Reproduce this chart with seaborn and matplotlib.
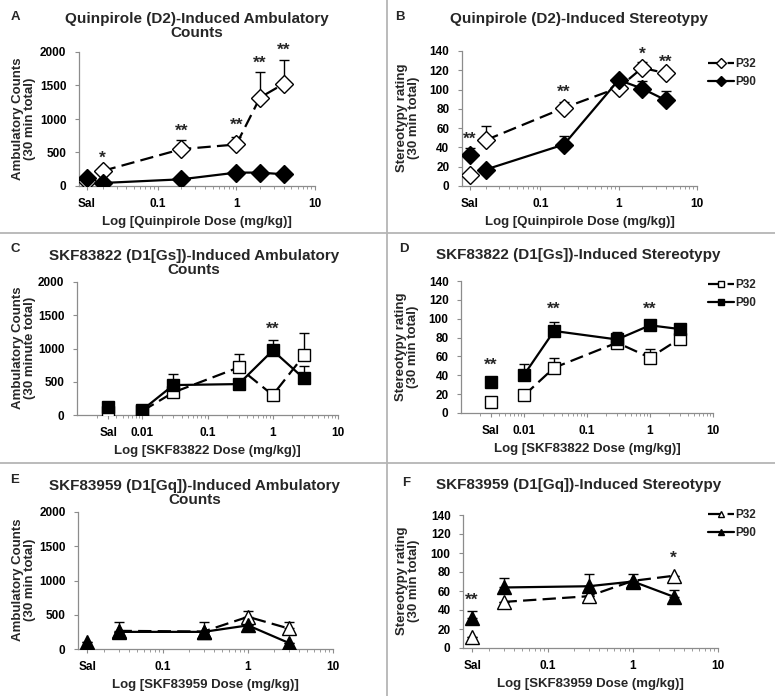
import numpy as np
import pandas as pd
import matplotlib
matplotlib.use("Agg")
import matplotlib.pyplot as plt
import seaborn as sns
from matplotlib.lines import Line2D
from matplotlib.ticker import LogLocator, NullFormatter, FixedLocator, FixedFormatter

sns.set_theme(style="white")
plt.rcParams['font.family'] = ['Liberation Sans', 'DejaVu Sans']
plt.rcParams['font.weight'] = 'bold'
plt.rcParams['axes.labelweight'] = 'bold'

# ---------------- data ----------------
# Panel A: Quinpirole ambulatory counts
a_doses = [0.02, 0.2, 1, 2, 4]
a_sal_p32, a_sal_p32_err = 80, 0
a_sal_p90, a_sal_p90_err = 120, 0
a_p32 = [225, 550, 620, 1320, 1525]
a_p32_err = [60, 135, 115, 375, 360]
a_p90 = [45, 100, 200, 200, 175]
a_p90_err = [0, 0, 0, 0, 0]
a_star_x = [0.02, 0.2, 1, 2, 4]
a_star_y = [420, 820, 900, 1830, 2030]
a_star_txt = ['*', '**', '**', '**', '**']

# Panel B: Quinpirole stereotypy
b_doses = [0.02, 0.2, 1, 2, 4]
b_sal_p32, b_sal_p32_err = 11, 3.5
b_sal_p90, b_sal_p90_err = 32.5, 6.5
b_p32 = [47.5, 81, 102, 122.5, 117]
b_p32_err = [14.5, 6, 0, 6, 3]
b_p90 = [17, 43, 110, 101, 89]
b_p90_err = [0, 8.5, 2, 8, 9.5]
b_star_x = ['sal', 0.2, 2, 4]
b_star_y = [48, 97, 137, 128]
b_star_txt = ['**', '**', '*', '**']

# Panel C: SKF83822 ambulatory counts
c_doses = [0.01, 0.03, 0.3, 1, 3]
c_sal_p32, c_sal_p32_err = 40, 0
c_sal_p90, c_sal_p90_err = 120, 0
c_p32 = [60, 340, 715, 300, 895]
c_p32_err = [0, 0, 205, 0, 335]
c_p90 = [75, 450, 465, 970, 550]
c_p90_err = [0, 170, 0, 165, 190]
c_star_x = [1]
c_star_y = [1290]
c_star_txt = ['**']

# Panel D: SKF83822 stereotypy
d_doses = [0.01, 0.03, 0.3, 1, 3]
d_sal_p32, d_sal_p32_err = 11.6, 3
d_sal_p90, d_sal_p90_err = 32.7, 3.5
d_p32 = [18.6, 48, 74.6, 58.7, 79]
d_p32_err = [5, 10, 0, 9, 0]
d_p90 = [40.4, 87, 78, 93, 89]
d_p90_err = [11.3, 9, 7.5, 0, 4]
d_star_x = ['sal', 0.03, 1]
d_star_y = [51, 110, 110]
d_star_txt = ['**', '**', '**']

# Panel E: SKF83959 ambulatory counts
e_doses = [0.03, 0.3, 1, 3]
e_sal_p32, e_sal_p32_err = 50, 0
e_sal_p90, e_sal_p90_err = 105, 0
e_p32 = [265, 255, 470, 300]
e_p32_err = [135, 135, 90, 90]
e_p90 = [250, 250, 345, 90]
e_p90_err = [0, 0, 0, 0]
e_star_x = []
e_star_y = []
e_star_txt = []

# Panel F: SKF83959 stereotypy
f_doses = [0.03, 0.3, 1, 3]
f_sal_p32, f_sal_p32_err = 11.6, 0
f_sal_p90, f_sal_p90_err = 31.7, 7.3
f_p32 = [48.5, 54.5, 70.7, 76]
f_p32_err = [0, 0, 0, 0]
f_p90 = [63.7, 65, 70, 54]
f_p90_err = [10, 13.4, 8, 7]
f_star_x = ['sal', 3]
f_star_y = [50, 94]
f_star_txt = ['**', '*']

amb_ticks = [0, 500, 1000, 1500, 2000]
ster_ticks = [0, 20, 40, 60, 80, 100, 120, 140]

# ---------------- layout ----------------
W, H = 775, 696
fig = plt.figure(figsize=(W / 100, H / 100), dpi=100)


def add_ax(l, r, t, b):
    return fig.add_axes([l / W, 1 - b / H, (r - l) / W, (b - t) / H])


GRAY = '#8c8c8c'
DASH = (0, (6, 2.8))


def panel(ax, sal_x, doses, sal32, sal32e, p32, p32e, sal90, sal90e, p90, p90e,
          marker, ms, xlim, decades, dec_labels, ylim, yticks,
          star_x, star_y, star_txt, xlabel):
    ax.set_xscale('log')
    for sal, sale, vals, errs, face, ls, z in [
            (sal32, sal32e, p32, p32e, 'white', DASH, 3),
            (sal90, sal90e, p90, p90e, 'black', '-', 5)]:
        xs = [sal_x] + list(doses)
        ys = [sal] + list(vals)
        es = [sale] + list(errs)
        ax.errorbar(xs, ys, yerr=[np.zeros(len(es)), es], fmt='none',
                    ecolor='black', elinewidth=1.0, capsize=3.5, capthick=1.0,
                    zorder=z - 1)
        df = pd.DataFrame({'dose': list(doses), 'value': list(vals)})
        sns.lineplot(data=df, x='dose', y='value', ax=ax, color='black',
                     linestyle=ls, linewidth=1.6, marker=marker, markersize=ms,
                     markerfacecolor=face, markeredgecolor='black',
                     markeredgewidth=1.0, errorbar=None, zorder=z)
        dfs = pd.DataFrame({'dose': [sal_x], 'value': [sal]})
        sns.lineplot(data=dfs, x='dose', y='value', ax=ax, color='black',
                     linestyle='none', marker=marker, markersize=ms,
                     markerfacecolor=face, markeredgecolor='black',
                     markeredgewidth=1.0, errorbar=None, zorder=z)
    for sx, sy, st in zip(star_x, star_y, star_txt):
        xx = sal_x if sx == 'sal' else sx
        ax.text(xx, sy, st, ha='center', va='center', fontsize=12.5,
                fontweight='bold', clip_on=False)
    ax.set_xlim(*xlim)
    ax.set_ylim(*ylim)
    ax.set_yticks(yticks)
    ax.set_yticklabels([str(t) for t in yticks])
    ax.xaxis.set_major_locator(FixedLocator([sal_x] + decades))
    ax.xaxis.set_major_formatter(FixedFormatter(['Sal'] + dec_labels))
    ax.xaxis.set_minor_locator(LogLocator(base=10, subs=np.arange(2, 10)))
    ax.xaxis.set_minor_formatter(NullFormatter())
    for s in ['top', 'right']:
        ax.spines[s].set_visible(False)
    for s in ['left', 'bottom']:
        ax.spines[s].set_color(GRAY)
        ax.spines[s].set_linewidth(0.9)
    ax.tick_params(axis='both', which='major', labelsize=8.5, colors='black',
                   length=3, width=0.8, color=GRAY, direction='out')
    ax.tick_params(axis='x', which='minor', length=2, width=0.6, color=GRAY,
                   direction='out', bottom=True)
    ax.tick_params(axis='x', which='major', pad=5.5, bottom=True)
    ax.tick_params(axis='y', which='major', pad=6, left=True)
    for lab in ax.get_xticklabels() + ax.get_yticklabels():
        lab.set_fontweight('bold')
    ax.set_xlabel(xlabel, fontsize=9.5, fontweight='bold', labelpad=4.5)
    ax.set_ylabel('')
    ax.grid(False)


axA = add_ax(79, 315, 52, 186)
panel(axA, 0.0125, a_doses, a_sal_p32, a_sal_p32_err, a_p32, a_p32_err,
      a_sal_p90, a_sal_p90_err, a_p90, a_p90_err, 'D', 9,
      (0.01, 10), [0.1, 1, 10], ['0.1', '1', '10'], (0, 2000), amb_ticks,
      a_star_x, a_star_y, a_star_txt, 'Log [Quinpirole Dose (mg/kg)]')

axB = add_ax(462, 697, 51, 186)
panel(axB, 0.0125, b_doses, b_sal_p32, b_sal_p32_err, b_p32, b_p32_err,
      b_sal_p90, b_sal_p90_err, b_p90, b_p90_err, 'D', 9,
      (0.01, 10), [0.1, 1, 10], ['0.1', '1', '10'], (0, 140), ster_ticks,
      b_star_x, b_star_y, b_star_txt, 'Log [Quinpirole Dose (mg/kg)]')

axC = add_ax(77, 338, 282, 415)
panel(axC, 0.003, c_doses, c_sal_p32, c_sal_p32_err, c_p32, c_p32_err,
      c_sal_p90, c_sal_p90_err, c_p90, c_p90_err, 's', 8.5,
      (0.001, 10), [0.01, 0.1, 1, 10], ['0.01', '0.1', '1', '10'], (0, 2000), amb_ticks,
      c_star_x, c_star_y, c_star_txt, 'Log [SKF83822 Dose (mg/kg)]')

axD = add_ax(461, 713, 281, 413)
panel(axD, 0.003, d_doses, d_sal_p32, d_sal_p32_err, d_p32, d_p32_err,
      d_sal_p90, d_sal_p90_err, d_p90, d_p90_err, 's', 8.5,
      (0.001, 10), [0.01, 0.1, 1, 10], ['0.01', '0.1', '1', '10'], (0, 140), ster_ticks,
      d_star_x, d_star_y, d_star_txt, 'Log [SKF83822 Dose (mg/kg)]')

axE = add_ax(78, 333, 512, 649)
panel(axE, 0.0128, e_doses, e_sal_p32, e_sal_p32_err, e_p32, e_p32_err,
      e_sal_p90, e_sal_p90_err, e_p90, e_p90_err, '^', 10,
      (0.01, 10), [0.1, 1, 10], ['0.1', '1', '10'], (0, 2000), amb_ticks,
      e_star_x, e_star_y, e_star_txt, 'Log [SKF83959 Dose (mg/kg)]')

axF = add_ax(463, 718, 515, 648)
panel(axF, 0.0128, f_doses, f_sal_p32, f_sal_p32_err, f_p32, f_p32_err,
      f_sal_p90, f_sal_p90_err, f_p90, f_p90_err, '^', 10,
      (0.01, 10), [0.1, 1, 10], ['0.1', '1', '10'], (0, 140), ster_ticks,
      f_star_x, f_star_y, f_star_txt, 'Log [SKF83959 Dose (mg/kg)]')


def ftext(x, y, s, **kw):
    fig.text(x / W, 1 - y / H, s, **kw)


TS = 11
ftext(197, 26, 'Quinpirole (D2)-Induced Ambulatory\nCounts', ha='center', va='center',
      fontsize=TS, fontweight='bold', linespacing=1.05)
ftext(579, 19, 'Quinpirole (D2)-Induced Stereotypy', ha='center', va='center',
      fontsize=TS, fontweight='bold')
ftext(194, 263, 'SKF83822 (D1[Gs])-Induced Ambulatory\nCounts', ha='center', va='center',
      fontsize=TS, fontweight='bold', linespacing=1.05)
ftext(578, 255, 'SKF83822 (D1[Gs])-Induced Stereotypy', ha='center', va='center',
      fontsize=TS, fontweight='bold')
ftext(195, 493, 'SKF83959 (D1[Gq])-Induced Ambulatory\nCounts', ha='center', va='center',
      fontsize=TS, fontweight='bold', linespacing=1.05)
ftext(579, 485, 'SKF83959 (D1[Gq])-Induced Stereotypy', ha='center', va='center',
      fontsize=TS, fontweight='bold')

for x, y, s in [(15, 17, 'A'), (400, 17, 'B'), (15, 249, 'C'), (404, 249, 'D'),
                (15, 480, 'E'), (406, 483, 'F')]:
    ftext(x, y, s, ha='center', va='center', fontsize=9.5, fontweight='bold')

YS = 9.5
for x, y, s in [(24, 119, 'Ambulatory Counts\n(30 min total)'),
                (408, 118, 'Stereotypy rating\n(30 min total)'),
                (24, 348, 'Ambulatory Counts\n(30 minute total)'),
                (407, 347, 'Stereotypy rating\n(30 min total)'),
                (24, 580, 'Ambulatory Counts\n(30 min total)'),
                (408, 581, 'Stereotypy rating\n(30 min total)')]:
    ftext(x, y, s, ha='center', va='center', rotation=90, fontsize=YS,
          fontweight='bold', linespacing=1.0, multialignment='center')

# legends
for lx, ly, mk, ms in [(708, 58, 'D', 5), (708, 279, 's', 5), (708, 509, '^', 5)]:
    handles = [Line2D([], [], color='black', linestyle=DASH, linewidth=1.6, marker=mk,
                      markersize=ms, markerfacecolor='white', markeredgecolor='black'),
               Line2D([], [], color='black', linestyle='-', linewidth=1.6, marker=mk,
                      markersize=ms, markerfacecolor='black', markeredgecolor='black')]
    fig.legend(handles, ['P32', 'P90'], loc='upper left',
               bbox_to_anchor=(lx / W, 1 - ly / H), frameon=False,
               handlelength=2.2, handletextpad=0.1, labelspacing=0.55,
               borderpad=0, borderaxespad=0, prop={'weight': 'bold', 'size': 8.5})

# separator lines
SEP = '#b5b5b5'
fig.add_artist(Line2D([386.5 / W, 386.5 / W], [0, 1], color=SEP, lw=1.3))
fig.add_artist(Line2D([0, 1], [1 - 232.5 / H, 1 - 232.5 / H], color=SEP, lw=1.3))
fig.add_artist(Line2D([0, 1], [1 - 463 / H, 1 - 463 / H], color=SEP, lw=1.3))

fig.savefig('out.png', dpi=100, facecolor='white')
